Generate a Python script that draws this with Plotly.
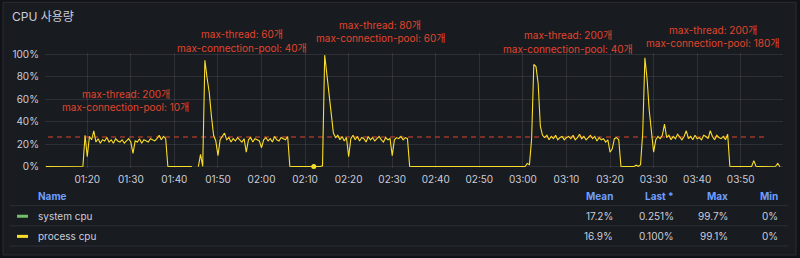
import pandas as pd
import plotly.graph_objects as go

# ---------------- data ----------------
start_time = "2024-01-01 01:10:30"
end_time = "2024-01-01 03:59:00"
times = pd.date_range(start_time, end_time, freq="30s")

N = None
# process cpu (%), 30 s samples, one row = 10 minutes
process_cpu = [
    # 01:10:30 - 01:20:00
    0.3, 0.3, 0.3, 0.8, 0.3, 0.3, 0.3, 0.3, 0.3, 0.3, 0.3, 0.3, 0.3, 0.3, 0.3, 0.3, 0.3, 0.5, 28, 9,
    # 01:20:30 - 01:30:00
    27, 24, 32, 22, 25, 21, 24, 23, 26, 22, 24, 21, 25, 23, 22, 24, 21, 23, 25, 22,
    # 01:30:30 - 01:40:00
    12, 23, 22, 25, 21, 24, 23, 22, 25, 24, 23, 25, 28, 24, 27, 25, 0.5, 0.3, 0.3, 0.3,
    # 01:40:30 - 01:50:00
    0.3, 0.3, 0.3, 0.3, 0.3, 0.3, 0.3, 0.3, N, N, 0.3, 11, 0.5, 94.6, 79, 66, 45, 28, 23, 10,
    # 01:50:30 - 02:00:00
    24, 27, 30, 24, 26, 22, 25, 23, 26, 24, 22, 25, 13, 24, 26, 22, 25, 24, 23, 17,
    # 02:00:30 - 02:10:00
    24, 26, 23, 25, 22, 27, 24, 23, 26, 25, 24, 27, 0.5, 0.3, 0.3, 0.3, 0.3, 0.3, 0.3, 0.3,
    # 02:10:30 - 02:20:00
    0.3, 0.3, 0.3, 0.3, 0.3, 0.3, 0.3, 1, 99.1, 82, 65, 48, 30, 26, 28, 24, 27, 23, 26, 9,
    # 02:20:30 - 02:30:00
    25, 28, 24, 27, 23, 26, 25, 22, 27, 24, 26, 23, 25, 27, 24, 22, 26, 24, 25, 10,
    # 02:30:30 - 02:40:00
    24, 26, 25, 27, 24, 26, 25, 0.5, 0.3, 0.3, 0.3, 0.3, 0.3, 0.3, 0.3, 0.3, 0.3, 0.3, 0.3, 0.3,
    # 02:40:30 - 02:50:00
    0.3, 0.3, 0.3, 0.3, 0.5, 0.3, 0.3, 0.3, 0.3, 0.3, 0.3, 0.3, 0.5, 0.3, 0.3, 0.3, 0.3, 0.3, 0.3, 0.3,
    # 02:50:30 - 03:00:00
    0.3, 0.3, 0.3, 0.3, 0.3, 0.3, 0.5, 0.3, 0.3, 0.3, 0.3, 0.3, 0.3, 0.3, 0.3, 0.3, 0.3, 0.3, 0.3, 0.3,
    # 03:00:30 - 03:10:00
    0.3, 3, 2, 25, 90.8, 89, 74, 36, 28, 26, 28, 24, 27, 25, 28, 24, 26, 27, 24, 26,
    # 03:10:30 - 03:20:00
    27, 25, 28, 24, 26, 29, 25, 27, 24, 26, 28, 25, 27, 23, 26, 24, 25, 22, 24, 13,
    # 03:20:30 - 03:30:00
    16, 25, 26, 24, 0.5, 0.3, 0.3, 0.3, 0.3, 0.3, 0.3, 1.5, 0.5, 2, 30, 96.7, 78, 50, 30, 13,
    # 03:30:30 - 03:40:00
    24, 27, 25, 28, 38, 26, 28, 24, 27, 25, 29, 26, 24, 27, 32, 25, 27, 24, 28, 25,
    # 03:40:30 - 03:50:00
    26, 24, 28, 27, 25, 32, 27, 24, 28, 26, 25, 27, 24, 29, 0.5, 0.3, 0.3, 0.3, 0.3, 0.3,
    # 03:50:30 - 03:59:00
    0.3, 0.3, 0.3, 0.3, 0.3, 5.5, 0.5, 0.3, 0.3, 0.3, 0.3, 0.3, 0.3, 0.3, 0.3, 0.5, 3, 0.1,
]

# isolated highlighted point
dot_times = ["2024-01-01 02:12:00"]
dot_values = [0.3]

# threshold line
threshold_times = ["2024-01-01 01:11:00", "2024-01-01 03:55:30"]
threshold_values = [26.5, 26.5]

# annotations (two lines each)
note_thread = ["max-thread: 200개", "max-thread: 60개", "max-thread: 80개",
               "max-thread: 200개", "max-thread: 200개"]
note_pool = ["max-connection-pool: 10개", "max-connection-pool: 40개",
             "max-connection-pool: 60개", "max-connection-pool: 40개",
             "max-connection-pool: 180개"]

# legend table
series_names = ["system cpu", "process cpu"]
series_colors = ["#73BF69", "#FADE2A"]
col_headers = ["Mean", "Last *", "Max", "Min"]
means = ["17.2%", "16.9%"]
lasts = ["0.251%", "0.100%"]
maxes = ["99.7%", "99.1%"]
mins = ["0%", "0%"]

y_ticks = [0, 20, 40, 60, 80, 100]
y_tick_labels = ["0%", "20%", "40%", "60%", "80%", "100%"]

# ---------------- layout helpers ----------------
W, H = 800, 258
L, R = 45, 783
TOP, BOT = 53.4, 167.6


def px(x):
    return (x - L) / (R - L)


def py(y):
    return (BOT - y) / (BOT - TOP)


FONT = "Inter, 'Noto Sans CJK KR', sans-serif"
TXT = "#CCCCDC"
RED = "#E0452E"
BLUE = "#6E9FFF"
GRID = "rgba(204,204,220,0.12)"

fig = go.Figure()

fig.add_trace(go.Scatter(
    x=threshold_times, y=threshold_values, mode="lines",
    line=dict(color=RED, width=1, dash="5px,4px"), hoverinfo="skip", showlegend=False))

fig.add_trace(go.Scatter(
    x=times, y=process_cpu, mode="lines", name="process cpu",
    line=dict(color="#FADE2A", width=1.1), connectgaps=False, showlegend=False))

fig.add_trace(go.Scatter(
    x=dot_times, y=dot_values, mode="markers",
    marker=dict(color="#FADE2A", size=5), showlegend=False, cliponaxis=False))

shapes = []
annotations = []

# panel
shapes.append(dict(type="rect", xref="paper", yref="paper",
                   x0=px(3), x1=px(796), y0=py(3), y1=py(254),
                   fillcolor="#181B1F", line=dict(color="#2A2D33", width=1), layer="below"))

# title
annotations.append(dict(text="CPU 사용량", xref="paper", yref="paper", x=px(10), y=py(17),
                        xanchor="left", yanchor="middle", showarrow=False,
                        font=dict(family=FONT, size=12, color=TXT)))

# chart notes
note_x = [125.5, 242, 380, 567.6, 712.7]
note_y1 = [94, 35, 26, 36, 30.7]
note_y2 = [107, 48, 38.5, 49.3, 43.3]
for t1, t2, cx, y1, y2 in zip(note_thread, note_pool, note_x, note_y1, note_y2):
    for t, yy in ((t1, y1), (t2, y2)):
        annotations.append(dict(text=t, xref="paper", yref="paper", x=px(cx), y=py(yy),
                                xanchor="center", yanchor="middle", showarrow=False,
                                font=dict(family=FONT, size=10, color=RED)))

# legend table
annotations.append(dict(text="<b>Name</b>", xref="paper", yref="paper", x=px(36), y=py(195),
                        xanchor="left", yanchor="middle", showarrow=False,
                        font=dict(family=FONT, size=10, color=BLUE)))
col_right = [615, 676, 730, 780]
for h, cxr in zip(col_headers, col_right):
    annotations.append(dict(text="<b>%s</b>" % h, xref="paper", yref="paper", x=px(cxr), y=py(195),
                            xanchor="right", yanchor="middle", showarrow=False,
                            font=dict(family=FONT, size=10, color=BLUE)))
for ly in (205, 225, 245):
    shapes.append(dict(type="line", xref="paper", yref="paper", x0=px(10), x1=px(788),
                       y0=py(ly), y1=py(ly), line=dict(color="#2C2F36", width=1)))
row_y = [215.5, 235.5]
for i, name in enumerate(series_names):
    yy = row_y[i]
    shapes.append(dict(type="line", xref="paper", yref="paper", x0=px(17), x1=px(28),
                       y0=py(yy), y1=py(yy), line=dict(color=series_colors[i], width=3)))
    annotations.append(dict(text=name, xref="paper", yref="paper", x=px(36), y=py(yy),
                            xanchor="left", yanchor="middle", showarrow=False,
                            font=dict(family=FONT, size=10, color=TXT)))
    for val, cxr in zip((means[i], lasts[i], maxes[i], mins[i]), col_right):
        annotations.append(dict(text=val, xref="paper", yref="paper", x=px(cxr), y=py(yy),
                                xanchor="right", yanchor="middle", showarrow=False,
                                font=dict(family=FONT, size=10, color=TXT)))

fig.update_layout(
    width=W, height=H,
    margin=dict(l=L, r=W - R, t=TOP, b=H - BOT, pad=0),
    paper_bgcolor="#111217", plot_bgcolor="rgba(0,0,0,0)",
    font=dict(family=FONT, size=10, color=TXT),
    showlegend=False,
    shapes=shapes, annotations=annotations,
    xaxis=dict(
        range=["2024-01-01 01:10:18", "2024-01-01 03:59:42"],
        tickformat="%H:%M", dtick=600000, tick0="2024-01-01 01:20:00",
        showgrid=True, gridcolor=GRID, zeroline=False, showline=False,
        ticks="", ticklabelstandoff=4, tickfont=dict(size=10, color=TXT)),
    yaxis=dict(
        range=[-1, 101], tickmode="array", tickvals=y_ticks, ticktext=y_tick_labels,
        showgrid=True, gridcolor=GRID, zeroline=False, showline=False,
        ticks="", ticklabelstandoff=5, tickfont=dict(size=10, color=TXT)),
)

fig.write_html("out.html")
